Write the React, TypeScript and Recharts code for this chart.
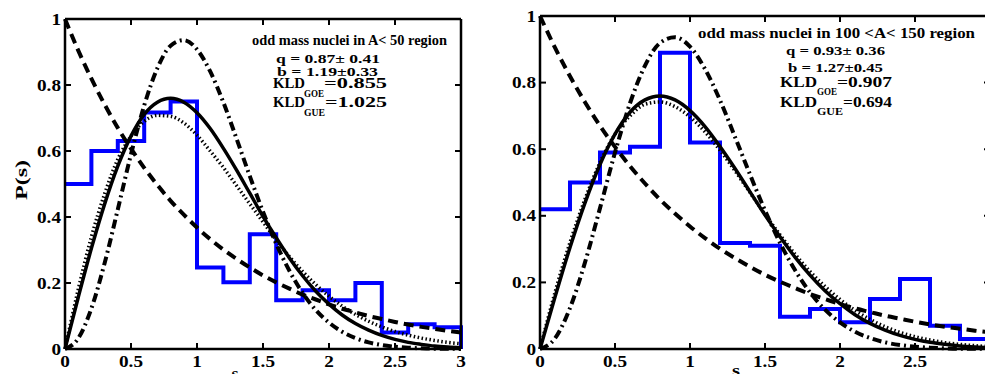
import { LineChart, Line, XAxis, YAxis } from 'recharts';

// ── Data ──

const sGrid = [
  0, 0.1, 0.2, 0.3, 0.4, 0.5, 0.6, 0.7, 0.8, 0.9, 1.0, 1.1, 1.2, 1.3, 1.4, 1.5,
  1.6, 1.7, 1.8, 1.9, 2.0, 2.1, 2.2, 2.3, 2.4, 2.5, 2.6, 2.7, 2.8, 2.9, 3.0,
];

const poisson = [
  1, 0.905, 0.819, 0.741, 0.67, 0.607, 0.549, 0.497, 0.449, 0.407, 0.368, 0.333, 0.301, 0.273, 0.247, 0.223,
  0.202, 0.183, 0.165, 0.15, 0.135, 0.122, 0.111, 0.1, 0.091, 0.082, 0.074, 0.067, 0.061, 0.055, 0.05,
];

const goe = [
  0, 0.156, 0.305, 0.439, 0.554, 0.645, 0.711, 0.748, 0.76, 0.748, 0.716, 0.668, 0.608, 0.542, 0.472, 0.402,
  0.337, 0.276, 0.222, 0.175, 0.136, 0.103, 0.077, 0.057, 0.041, 0.029, 0.02, 0.014, 0.009, 0.006, 0.004,
];

const gue = [
  0, 0.032, 0.123, 0.26, 0.423, 0.59, 0.738, 0.851, 0.919, 0.936, 0.908, 0.841, 0.747, 0.637, 0.524, 0.416,
  0.319, 0.237, 0.17, 0.118, 0.08, 0.052, 0.033, 0.02, 0.012, 0.007, 0.004, 0.002, 0.001, 0.001, 0,
];

// fitted curve, A < 50
const fitLight = [
  0, 0.18, 0.34, 0.47, 0.575, 0.645, 0.69, 0.708, 0.705, 0.685, 0.648, 0.6, 0.55, 0.495, 0.44, 0.385,
  0.33, 0.28, 0.235, 0.195, 0.16, 0.13, 0.105, 0.084, 0.067, 0.053, 0.042, 0.033, 0.026, 0.02, 0.016,
];

// fitted curve, 100 < A < 150
const fitMid = [
  0, 0.17, 0.32, 0.45, 0.56, 0.645, 0.7, 0.735, 0.742, 0.728, 0.697, 0.652, 0.597, 0.535, 0.47, 0.405,
  0.343, 0.285, 0.233, 0.188, 0.149, 0.116, 0.089, 0.067, 0.05, 0.037, 0.027, 0.019, 0.014, 0.01, 0.007,
];

const binEdges = [0, 0.2, 0.4, 0.6, 0.8, 1.0, 1.2, 1.4, 1.6, 1.8, 2.0, 2.2, 2.4, 2.6, 2.8, 3.0];
const histLight = [0.5, 0.6, 0.63, 0.717, 0.75, 0.247, 0.202, 0.348, 0.148, 0.178, 0.148, 0.2, 0.05, 0.075, 0.066];
const histMid = [0.42, 0.5, 0.59, 0.607, 0.89, 0.62, 0.318, 0.31, 0.097, 0.12, 0.08, 0.15, 0.21, 0.07, 0.03];

const xTicks = [0, 0.5, 1, 1.5, 2, 2.5, 3];
const yTicks = [0, 0.2, 0.4, 0.6, 0.8, 1];

// ── Layout ──

const H = 374;
const BOTTOM = 349; // plot bottom, both panels
const LEFT_PANEL = { left: 0, width: 475, top: 19, right: 14, yAxisWidth: 65 };
const RIGHT_PANEL = { left: 480, width: 520, top: 16, right: 10, yAxisWidth: 60 };

// ── Helpers ──

const FONT = "'Liberation Serif', 'Times New Roman', serif";
const AXIS_LINE = { stroke: '#000', strokeWidth: 2.5 };

function curve(values: number[]) {
  return sGrid.map((s, i) => ({ s, p: values[i] }));
}

function steps(values: number[]) {
  const pts = binEdges.map((s, i) => ({ s, p: values[Math.min(i, values.length - 1)] }));
  pts.push({ s: binEdges[binEdges.length - 1], p: 0 });
  return pts;
}

function tickLabel(v: number) {
  return String(v);
}

// ── Ticks (inward, MATLAB style) ──

function BottomTick({ x, y, payload }: any) {
  return (
    <g>
      <path d={`M${x},${y}V${y - 6}`} stroke="#000" strokeWidth={2} fill="none" />
      <text
        transform={`translate(${x},${y + 18}) scale(1.2,1)`}
        textAnchor="middle"
        fontFamily={FONT}
        fontWeight="bold"
        fontSize={16}
        fill="#000"
      >
        {tickLabel(payload.value)}
      </text>
    </g>
  );
}

function TopTick({ x, y }: any) {
  return <path d={`M${x},${y}V${y + 6}`} stroke="#000" strokeWidth={2} fill="none" />;
}

function LeftTick({ x, y, payload }: any) {
  return (
    <g>
      <path d={`M${x},${y}H${x + 6}`} stroke="#000" strokeWidth={2} fill="none" />
      <text
        transform={`translate(${x - 4},${y + 5.5}) scale(1.2,1)`}
        textAnchor="end"
        fontFamily={FONT}
        fontWeight="bold"
        fontSize={16}
        fill="#000"
      >
        {tickLabel(payload.value)}
      </text>
    </g>
  );
}

function RightTick({ x, y }: any) {
  return <path d={`M${x},${y}H${x - 6}`} stroke="#000" strokeWidth={2} fill="none" />;
}

// ── Panel ──

function Panel({ cfg, hist, fit }: { cfg: typeof LEFT_PANEL; hist: number[]; fit: number[] }) {
  return (
    <div style={{ position: 'absolute', left: cfg.left, top: 0 }}>
      <LineChart
        width={cfg.width}
        height={H}
        data={curve(goe)}
        margin={{ top: cfg.top - 1, right: cfg.right - 1, bottom: 0, left: 0 }}
      >
        <XAxis
          dataKey="s"
          type="number"
          domain={[0, 3]}
          ticks={xTicks}
          interval={0}
          height={H - BOTTOM}
          tickSize={0}
          tickMargin={0}
          axisLine={AXIS_LINE}
          tick={(p: any) => <BottomTick {...p} />}
        />
        <XAxis
          xAxisId="top"
          orientation="top"
          dataKey="s"
          type="number"
          domain={[0, 3]}
          ticks={xTicks}
          interval={0}
          height={1}
          tickSize={0}
          tickMargin={0}
          axisLine={AXIS_LINE}
          tick={(p: any) => <TopTick {...p} />}
        />
        <YAxis
          type="number"
          domain={[0, 1]}
          ticks={yTicks}
          interval={0}
          width={cfg.yAxisWidth}
          tickSize={0}
          tickMargin={0}
          axisLine={AXIS_LINE}
          tick={(p: any) => <LeftTick {...p} />}
        />
        <YAxis
          yAxisId="right"
          orientation="right"
          type="number"
          domain={[0, 1]}
          ticks={yTicks}
          interval={0}
          width={1}
          tickSize={0}
          tickMargin={0}
          axisLine={AXIS_LINE}
          tick={(p: any) => <RightTick {...p} />}
        />
        {/* invisible carrier so the mirrored axes get a domain */}
        <Line
          xAxisId="top"
          yAxisId="right"
          dataKey="p"
          stroke="none"
          dot={false}
          activeDot={false}
          isAnimationActive={false}
        />
        <Line
          data={steps(hist)}
          dataKey="p"
          type="stepAfter"
          stroke="#0000ff"
          strokeWidth={4}
          dot={false}
          isAnimationActive={false}
        />
        <Line
          data={curve(poisson)}
          dataKey="p"
          type="monotone"
          stroke="#000"
          strokeWidth={4}
          strokeDasharray="10 6"
          dot={false}
          isAnimationActive={false}
        />
        <Line
          data={curve(goe)}
          dataKey="p"
          type="monotone"
          stroke="#000"
          strokeWidth={3.5}
          dot={false}
          isAnimationActive={false}
        />
        <Line
          data={curve(gue)}
          dataKey="p"
          type="monotone"
          stroke="#000"
          strokeWidth={4}
          strokeDasharray="9 4 2 4"
          dot={false}
          isAnimationActive={false}
        />
        <Line
          data={curve(fit)}
          dataKey="p"
          type="monotone"
          stroke="#000"
          strokeWidth={3.5}
          strokeDasharray="1.5 2.5"
          dot={false}
          isAnimationActive={false}
        />
      </LineChart>
    </div>
  );
}

// ── Annotations ──

function T({ x, y, w, size = 14, anchor = 'start', children }: any) {
  return (
    <text
      x={x}
      y={y}
      textLength={w}
      lengthAdjust="spacingAndGlyphs"
      textAnchor={anchor}
      fontFamily={FONT}
      fontWeight="bold"
      fontSize={size}
      fill="#000"
    >
      {children}
    </text>
  );
}

export default function App() {
  return (
    <div
      style={{
        position: 'absolute',
        left: 0,
        top: 0,
        width: 985,
        height: H,
        overflow: 'hidden',
        background: '#fff',
      }}
    >
      <Panel cfg={LEFT_PANEL} hist={histLight} fit={fitLight} />
      <Panel cfg={RIGHT_PANEL} hist={histMid} fit={fitMid} />

      <svg width={985} height={H} style={{ position: 'absolute', left: 0, top: 0, pointerEvents: 'none' }}>
        {/* axis titles */}
        <text
          transform="translate(27,180) rotate(-90)"
          textAnchor="middle"
          textLength={40}
          lengthAdjust="spacingAndGlyphs"
          fontFamily={FONT}
          fontWeight="bold"
          fontSize={17}
          fill="#000"
        >
          P(s)
        </text>
        <T x={235} y={379} w={7} size={17} anchor="middle">s</T>
        <T x={736} y={376} w={8} size={17} anchor="middle">s</T>

        {/* left panel */}
        <T x={349.5} y={45} w={195} size={15} anchor="middle">odd mass nuclei in A&lt; 50 region</T>
        <T x={328} y={63} w={104} size={13} anchor="middle">q = 0.87± 0.41</T>
        <T x={327.5} y={76} w={101} size={13} anchor="middle">b = 1.19±0.33</T>
        <T x={273} y={88} w={32}>KLD</T>
        <T x={304} y={97} w={20} size={10}>GOE</T>
        <T x={324} y={88} w={63}>=0.855</T>
        <T x={273} y={107} w={32}>KLD</T>
        <T x={304} y={116} w={21} size={10}>GUE</T>
        <T x={325} y={107} w={62}>=1.025</T>

        {/* right panel */}
        <T x={836.5} y={38} w={277} size={15} anchor="middle">odd mass nuclei in 100 &lt;A&lt; 150 region</T>
        <T x={835.5} y={55} w={99} size={13.5} anchor="middle">q = 0.93± 0.36</T>
        <T x={835.5} y={72} w={95} size={13.5} anchor="middle">b = 1.27±0.45</T>
        <T x={780} y={86.5} w={37}>KLD</T>
        <T x={817} y={95} w={20} size={10}>GOE</T>
        <T x={837} y={86.5} w={55}>=0.907</T>
        <T x={780} y={107} w={37}>KLD</T>
        <T x={817} y={115} w={26} size={10}>GUE</T>
        <T x={843} y={107} w={49}>=0.694</T>
      </svg>
    </div>
  );
}
